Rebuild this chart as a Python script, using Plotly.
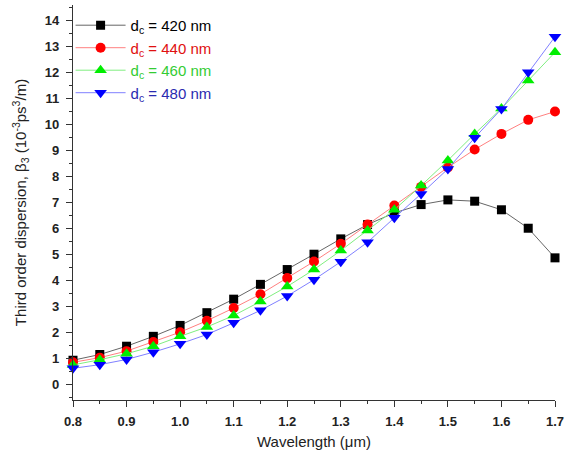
import plotly.graph_objects as go

wavelength = [0.80, 0.85, 0.90, 0.95, 1.00, 1.05, 1.10, 1.15, 1.20, 1.25,
              1.30, 1.35, 1.40, 1.45, 1.50, 1.55, 1.60, 1.65, 1.70]

d420 = [0.93, 1.15, 1.47, 1.85, 2.27, 2.76, 3.28, 3.85, 4.42, 5.01,
        5.60, 6.15, 6.60, 6.92, 7.10, 7.05, 6.72, 6.01, 4.87]
d440 = [0.85, 1.03, 1.28, 1.63, 2.01, 2.45, 2.94, 3.47, 4.09, 4.73,
        5.41, 6.15, 6.88, 7.60, 8.35, 9.04, 9.64, 10.18, 10.50]
d460 = [0.75, 0.95, 1.18, 1.47, 1.85, 2.21, 2.65, 3.19, 3.77, 4.42,
        5.15, 5.92, 6.72, 7.65, 8.62, 9.64, 10.62, 11.69, 12.78]
d480 = [0.62, 0.76, 0.96, 1.24, 1.56, 1.92, 2.37, 2.85, 3.40, 4.03,
        4.72, 5.47, 6.41, 7.33, 8.29, 9.49, 10.60, 12.01, 13.38]

names = ["d<sub>c</sub> = 420 nm", "d<sub>c</sub> = 440 nm",
         "d<sub>c</sub> = 460 nm", "d<sub>c</sub> = 480 nm"]
series = [d420, d440, d460, d480]
marker_colors = ["#000000", "#ff0000", "#00ee00", "#0000ff"]
line_colors = ["#666666", "#ff8080", "#80ee80", "#8080ff"]
symbols = ["square", "circle", "triangle-up", "triangle-down"]
sizes = [9, 10, 11, 11]
text_colors = ["#000000", "#e01010", "#33cc33", "#2a2ab0"]

fig = go.Figure()
for i in range(4):
    fig.add_trace(go.Scatter(
        x=wavelength, y=series[i], mode="lines+markers",
        name="<span style='color:%s'>%s</span>" % (text_colors[i], names[i]),
        line=dict(color=line_colors[i], width=1),
        marker=dict(symbol=symbols[i], size=sizes[i], color=marker_colors[i],
                    line=dict(width=0)),
        cliponaxis=False,
    ))

axis_common = dict(
    showline=True, linecolor="#333333", linewidth=1.2, mirror=False,
    ticks="outside", ticklen=6, tickcolor="#333333", tickwidth=1.2,
    showgrid=False, zeroline=False,
    tickfont=dict(family="Arial, Liberation Sans", size=13, color="#222222", weight="bold"),
)

fig.update_layout(
    width=569, height=464,
    paper_bgcolor="white", plot_bgcolor="white",
    margin=dict(l=73, r=10, t=5, b=64),
    font=dict(family="Arial, Liberation Sans", color="#222222"),
    showlegend=True,
    legend=dict(x=-0.005, y=0.99, xanchor="left", yanchor="top",
                bgcolor="rgba(0,0,0,0)", font=dict(size=15),
                itemsizing="trace", tracegroupgap=0, itemwidth=50),
    xaxis=dict(range=[0.8, 1.7], dtick=0.1, tick0=0.8, tickformat=".1f",
               ticklabelstandoff=3,
               minor=dict(dtick=0.05, ticks="outside", ticklen=3, tickcolor="#333333"),
               title=dict(text="Wavelength (\u03bcm)", font=dict(size=15), standoff=8),
               **axis_common),
    yaxis=dict(range=[-0.6, 14.6], dtick=1, tick0=0,
               ticklabelstandoff=4,
               minor=dict(dtick=0.5, ticks="outside", ticklen=3, tickcolor="#333333"),
               title=dict(text="Third order dispersion, \u03b2<sub>3</sub> (10<sup>-3</sup>ps<sup>3</sup>/m)",
                          font=dict(size=15), standoff=14),
               **axis_common),
)

fig.write_html("out.html")
